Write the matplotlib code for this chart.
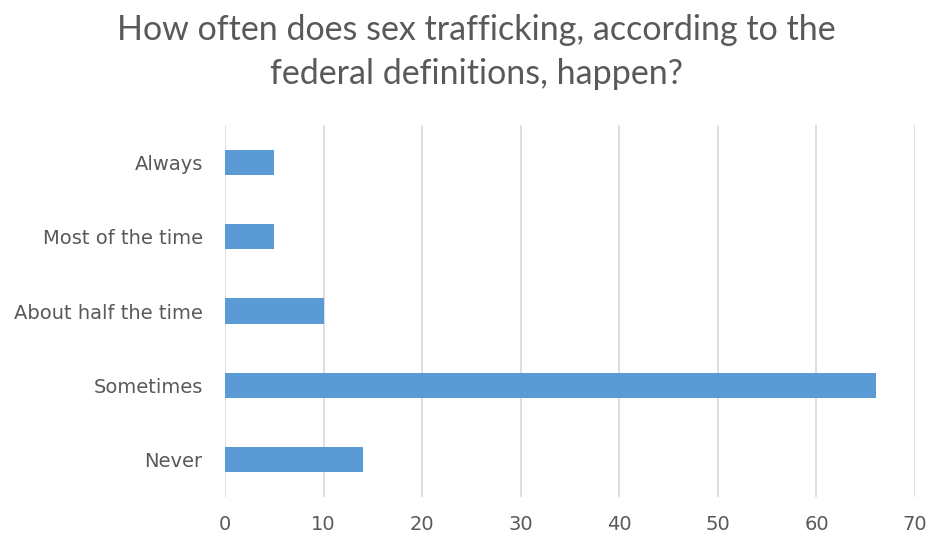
import matplotlib.pyplot as plt

categories = ['Never', 'Sometimes', 'About half the time', 'Most of the time', 'Always']
counts = [14, 66, 10, 5, 5]
xticks = [0, 10, 20, 30, 40, 50, 60, 70]

plt.rcParams['font.family'] = ['DejaVu Sans']

fig = plt.figure(figsize=(9.3, 5.4), dpi=100)
ax = fig.add_axes([0.2419, 0.0796, 0.742, 0.6889])

ax.barh(range(len(categories)), counts, height=0.34, color='#5B9BD5', zorder=3)

ax.set_xlim(0, 70)
ax.set_ylim(-0.5, len(categories) - 0.5)
ax.set_xticks(xticks)
ax.set_yticks(range(len(categories)))
ax.set_yticklabels(categories)

ax.grid(axis='x', color='#D9D9D9', linewidth=1.2, zorder=0)
for s in ax.spines.values():
    s.set_visible(False)
ax.tick_params(axis='both', length=0, labelsize=14, labelcolor='#595959')
ax.tick_params(axis='y', pad=16)
ax.tick_params(axis='x', pad=13)

fig.suptitle('How often does sex trafficking, according to the\nfederal definitions, happen?',
             x=0.512, y=0.975, fontsize=24.5, color='#595959', linespacing=1.5,
             family=['Lato', 'DejaVu Sans'])

fig.savefig('out.png', dpi=100, facecolor='white')
